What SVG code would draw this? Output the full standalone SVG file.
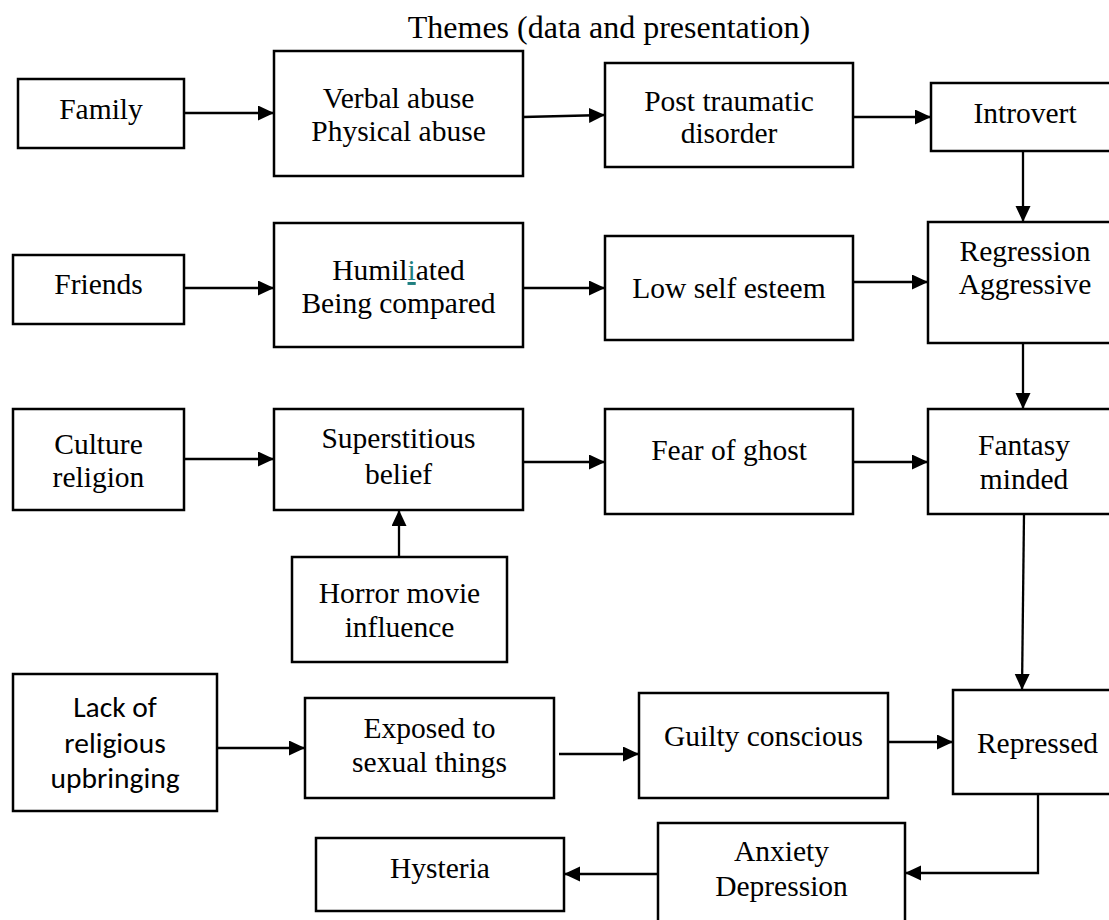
<svg xmlns="http://www.w3.org/2000/svg" width="1109" height="920" viewBox="0 0 1109 920">
<defs>
<marker id="ah" markerUnits="userSpaceOnUse" markerWidth="17" markerHeight="16" refX="16" refY="7.5" orient="auto">
<path d="M0,0 L16,7.5 L0,15 z" fill="#000"/>
</marker>
<style>
.box{fill:#fff;stroke:#000;stroke-width:2.5}
.t{font-family:"Liberation Serif","Times New Roman",serif;font-size:29.5px;fill:#000;text-anchor:middle}
.ti{font-family:"Liberation Serif","Times New Roman",serif;font-size:32px;fill:#000;text-anchor:middle}
.s{font-family:Carlito,Calibri,Lato,"Liberation Sans",sans-serif;font-size:29.5px;fill:#000;text-anchor:middle}
.c{fill:none;stroke:#000;stroke-width:2.3}
</style>
</defs>
<rect width="1109" height="920" fill="#fff"/>
<text class="ti" x="609" y="38">Themes (data and presentation)</text>
<g id="connectors">
<path class="c" d="M184,113 H274" marker-end="url(#ah)"/>
<path class="c" d="M523,117 L605,115" marker-end="url(#ah)"/>
<path class="c" d="M853,117 H931" marker-end="url(#ah)"/>
<path class="c" d="M1023,151 V222" marker-end="url(#ah)"/>
<path class="c" d="M184,288 H274" marker-end="url(#ah)"/>
<path class="c" d="M523,288 H605" marker-end="url(#ah)"/>
<path class="c" d="M853,282 H928" marker-end="url(#ah)"/>
<path class="c" d="M1023,343 V409" marker-end="url(#ah)"/>
<path class="c" d="M184,459 H274" marker-end="url(#ah)"/>
<path class="c" d="M523,462 H605" marker-end="url(#ah)"/>
<path class="c" d="M853,462 H928" marker-end="url(#ah)"/>
<path class="c" d="M399,557 V510" marker-end="url(#ah)"/>
<path class="c" d="M1024,514 L1022,690" marker-end="url(#ah)"/>
<path class="c" d="M217,748 H305" marker-end="url(#ah)"/>
<path class="c" d="M559,754 H639" marker-end="url(#ah)"/>
<path class="c" d="M888,742 H953" marker-end="url(#ah)"/>
<path class="c" d="M1038,794 V873 H905" marker-end="url(#ah)"/>
<path class="c" d="M658,874 H564" marker-end="url(#ah)"/>
</g>
<g id="family"><rect class="box" x="18" y="79" width="166" height="69"/><text class="t" x="101" y="119">Family</text></g>
<g id="verbal"><rect class="box" x="274" y="51" width="249" height="125"/><text class="t" x="398.5" y="108">Verbal abuse</text><text class="t" x="398.5" y="141">Physical abuse</text></g>
<g id="post"><rect class="box" x="605" y="63" width="248" height="104"/><text class="t" x="729" y="111">Post traumatic</text><text class="t" x="729" y="143">disorder</text></g>
<g id="introvert"><rect class="box" x="931" y="83" width="190" height="68"/><text class="t" x="1025" y="123">Introvert</text></g>
<g id="friends"><rect class="box" x="13" y="255" width="171" height="69"/><text class="t" x="98.5" y="294">Friends</text></g>
<g id="humiliated"><rect class="box" x="274" y="223" width="249" height="124"/><text class="t" x="398.5" y="280">Humil<tspan fill="#1f7f80" text-decoration="underline">i</tspan>ated</text><text class="t" x="398.5" y="313">Being compared</text></g>
<g id="lowself"><rect class="box" x="605" y="236" width="248" height="104"/><text class="t" x="729" y="298">Low self esteem</text></g>
<g id="regression"><rect class="box" x="928" y="222" width="195" height="121"/><text class="t" x="1025" y="261">Regression</text><text class="t" x="1025" y="294">Aggressive</text></g>
<g id="culture"><rect class="box" x="13" y="409" width="171" height="101"/><text class="t" x="98.5" y="454">Culture</text><text class="t" x="98.5" y="487">religion</text></g>
<g id="superstitious"><rect class="box" x="274" y="409" width="249" height="101"/><text class="t" x="398.5" y="448">Superstitious</text><text class="t" x="398.5" y="484">belief</text></g>
<g id="fear"><rect class="box" x="605" y="409" width="248" height="105"/><text class="t" x="729" y="460">Fear of ghost</text></g>
<g id="fantasy"><rect class="box" x="928" y="409" width="195" height="105"/><text class="t" x="1024" y="455">Fantasy</text><text class="t" x="1024" y="489">minded</text></g>
<g id="horror"><rect class="box" x="292" y="557" width="215" height="105"/><text class="t" x="399.5" y="603">Horror movie</text><text class="t" x="399.5" y="637">influence</text></g>
<g id="lack"><rect class="box" x="13" y="674" width="204" height="137"/><text class="s" x="115" y="717">Lack of</text><text class="s" x="115" y="753">religious</text><text class="s" x="115" y="788">upbringing</text></g>
<g id="exposed"><rect class="box" x="305" y="698" width="249" height="100"/><text class="t" x="429.5" y="738">Exposed to</text><text class="t" x="429.5" y="772">sexual things</text></g>
<g id="guilty"><rect class="box" x="639" y="693" width="249" height="105"/><text class="t" x="763.5" y="746">Guilty conscious</text></g>
<g id="repressed"><rect class="box" x="953" y="690" width="170" height="104"/><text class="t" x="1037.5" y="753">Repressed</text></g>
<g id="anxiety"><rect class="box" x="658" y="823" width="247" height="110"/><text class="t" x="781.5" y="861">Anxiety</text><text class="t" x="781.5" y="896">Depression</text></g>
<g id="hysteria"><rect class="box" x="316" y="838" width="248" height="73"/><text class="t" x="440" y="878">Hysteria</text></g>
</svg>
